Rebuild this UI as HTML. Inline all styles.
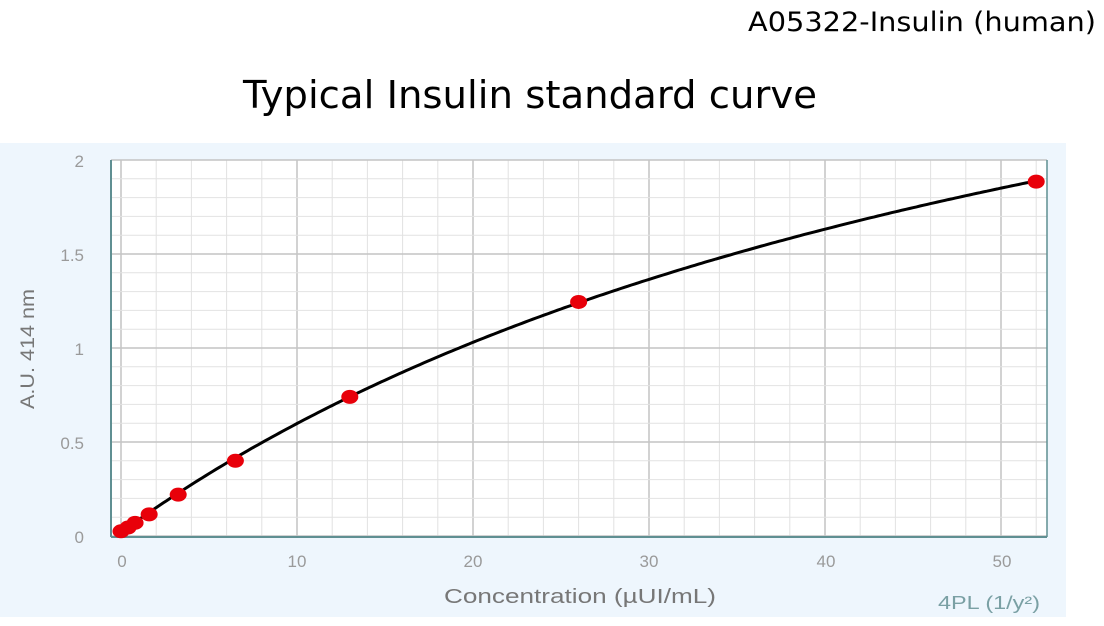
<!DOCTYPE html>
<html><head><meta charset="utf-8"><style>
body{margin:0;width:1104px;height:621px;background:#fff;overflow:hidden;font-family:"Liberation Sans","DejaVu Sans",sans-serif}
</style></head><body>
<svg width="1104" height="621" xmlns="http://www.w3.org/2000/svg" id="s">
<text x="748" y="31" textLength="348" lengthAdjust="spacingAndGlyphs" font-family="DejaVu Sans, sans-serif" font-size="27" fill="#000">A05322-Insulin (human)</text>
<text x="243" y="108" textLength="574" lengthAdjust="spacingAndGlyphs" font-family="DejaVu Sans, sans-serif" font-size="38" fill="#000">Typical Insulin standard curve</text>
<rect x="0" y="143" width="1066" height="474" fill="#eef6fd"/>
<rect x="111" y="160" width="936" height="377" fill="#fff"/>
<g id="grid"></g>
<line x1="111" y1="160" x2="111" y2="537" stroke="#5f8f92" stroke-width="2"/>
<line x1="111" y1="537" x2="1047" y2="537" stroke="#5f8f92" stroke-width="2"/>
<line x1="1047" y1="160" x2="1047" y2="537" stroke="#5f8f92" stroke-width="1.5"/>
<g font-size="17" fill="#9a9a9a" text-anchor="end">
<text x="84" y="167">2</text><text x="84" y="261">1.5</text><text x="84" y="355">1</text><text x="84" y="449">0.5</text><text x="84" y="543">0</text>
</g>
<g font-size="17" fill="#9a9a9a" text-anchor="middle">
<text x="122" y="567">0</text><text x="297" y="567">10</text><text x="473" y="567">20</text><text x="649" y="567">30</text><text x="826" y="567">40</text><text x="1002" y="567">50</text>
</g>
<text x="444" y="603" textLength="272" lengthAdjust="spacingAndGlyphs" font-size="20" fill="#777">Concentration (µUI/mL)</text>
<text x="938" y="609" textLength="102" lengthAdjust="spacingAndGlyphs" font-size="18" fill="#7aa0a4">4PL (1/y²)</text>
<text transform="translate(34,349) rotate(-90)" text-anchor="middle" textLength="120" lengthAdjust="spacingAndGlyphs" font-size="19" fill="#777">A.U. 414 nm</text>
<path id="curve" fill="none" stroke="#000" stroke-width="3"/>
<g id="pts" fill="#e8000a"></g>
</svg>
<script>
var X=function(v){return 121+17.6*v},Y=function(v){return 536-188*v};
var g=document.getElementById('grid'),h='';
for(var i=0;i<=26;i++){var x=X(i*2);if(x>1046)break;h+='<line x1="'+x+'" y1="160" x2="'+x+'" y2="537" stroke="'+(i%5==0?'#c4c4c4':'#e2e2e2')+'" stroke-width="'+(i%5==0?1.5:1)+'"/>';}
for(var j=0;j<=20;j++){var y=Y(j*0.1);h+='<line x1="111" y1="'+y+'" x2="1047" y2="'+y+'" stroke="'+(j%5==0?'#c4c4c4':'#e2e2e2')+'" stroke-width="'+(j%5==0?1.5:1)+'"/>';}
g.innerHTML=h;
function f(x){return 0.02+3.99*x/(59+x);}
var d='';for(var k=0;k<=260;k++){var x=k*0.2;d+=(k?'L':'M')+X(x).toFixed(1)+','+Y(f(x)).toFixed(1);}
document.getElementById('curve').setAttribute('d',d);
var P=[[0,0.025],[0.4,0.045],[0.8,0.07],[1.6,0.115],[3.25,0.22],[6.5,0.4],[13,0.74],[26,1.245],[52,1.885]],p='';
P.forEach(function(q){p+='<ellipse cx="'+X(q[0])+'" cy="'+Y(q[1])+'" rx="8.5" ry="7"/>';});
document.getElementById('pts').innerHTML=p;
</script>
</body></html>
